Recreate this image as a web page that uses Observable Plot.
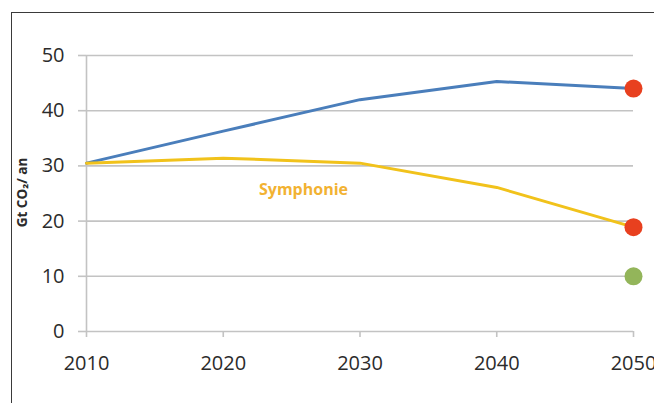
<!DOCTYPE html>
<html>
<head>
<meta charset="utf-8">
<script src="https://cdn.jsdelivr.net/npm/d3@7"></script>
<script src="https://cdn.jsdelivr.net/npm/@observablehq/plot@0.6"></script>
<style>
  html, body { margin: 0; padding: 0; background: #fff; overflow: hidden; }
  #wrap { position: relative; width: 654px; height: 403px; }
  #frame {
    position: absolute; left: 11px; top: 12px; right: -4px; bottom: -4px;
    border-left: 1.5px solid #3a3a3a; border-top: 1.5px solid #3a3a3a;
    pointer-events: none;
  }
</style>
</head>
<body>
<div id="wrap"><div id="frame"></div></div>
<script>
// Emissions trajectories, Gt CO2 per year
const years = [2010, 2020, 2030, 2040, 2050];
const baseline = [30.5, 36.3, 42.0, 45.3, 44.0];
const symphonie = [30.5, 31.4, 30.5, 26.1, 18.9];

// 2050 target markers
const targetValues = [44.0, 18.9, 10.0];
const targetColors = ["#e8401f", "#e8401f", "#93b55a"];

const yTicks = [0, 10, 20, 30, 40, 50];
const xTicks = [2010, 2020, 2030, 2040, 2050];
const yLabel = "Gt CO₂/ an";
const seriesLabel = "Symphonie";

const baselineRows = years.map((y, i) => ({year: y, value: baseline[i]}));
const symphonieRows = years.map((y, i) => ({year: y, value: symphonie[i]}));
const targetRows = targetValues.map((v, i) => ({year: 2050, value: v, color: targetColors[i]}));

const grid = "#c3c3c3";

const chart = Plot.plot({
  width: 654,
  height: 403,
  marginLeft: 86,
  marginRight: 21,
  marginTop: 55,
  marginBottom: 72,
  style: {fontFamily: "'Open Sans', sans-serif", background: "transparent", overflow: "visible"},
  x: {domain: [2010, 2050]},
  y: {domain: [0, 50]},
  marks: [
    Plot.ruleY(yTicks, {x1: 2010, x2: 2050, stroke: grid, strokeWidth: 1.6}),
    Plot.ruleX([2010], {y1: 0, y2: 50, stroke: grid, strokeWidth: 1.6}),
    Plot.axisY(yTicks, {
      tickSize: 8, tickPadding: 14, stroke: grid, strokeWidth: 1.6,
      fontSize: 20, fill: "#2b2b2b", label: null
    }),
    Plot.axisX(xTicks, {
      tickSize: 6, tickPadding: 18, stroke: grid, strokeWidth: 1.6,
      fontSize: 20, fill: "#2b2b2b", tickFormat: d => String(d), label: null
    }),
    Plot.line(baselineRows, {x: "year", y: "value", stroke: "#4a7ebb", strokeWidth: 3}),
    Plot.line(symphonieRows, {x: "year", y: "value", stroke: "#f1c21b", strokeWidth: 3}),
    Plot.dot(targetRows, {x: "year", y: "value", fill: "color", r: 9, stroke: null}),
    Plot.text([seriesLabel], {
      frameAnchor: "top-left", dx: 303 - 86, dy: 189 - 55,
      textAnchor: "middle", lineAnchor: "middle",
      fontSize: 16, fontWeight: "bold", fill: "#f2b232"
    }),
    Plot.text([yLabel], {
      frameAnchor: "left", dx: 22 - 86, dy: 192 - 193,
      textAnchor: "middle", lineAnchor: "middle",
      rotate: -90, fontSize: 13.5, fontWeight: "bold", fill: "#2b2b2b"
    })
  ]
});

document.getElementById("wrap").prepend(chart);
</script>
</body>
</html>
